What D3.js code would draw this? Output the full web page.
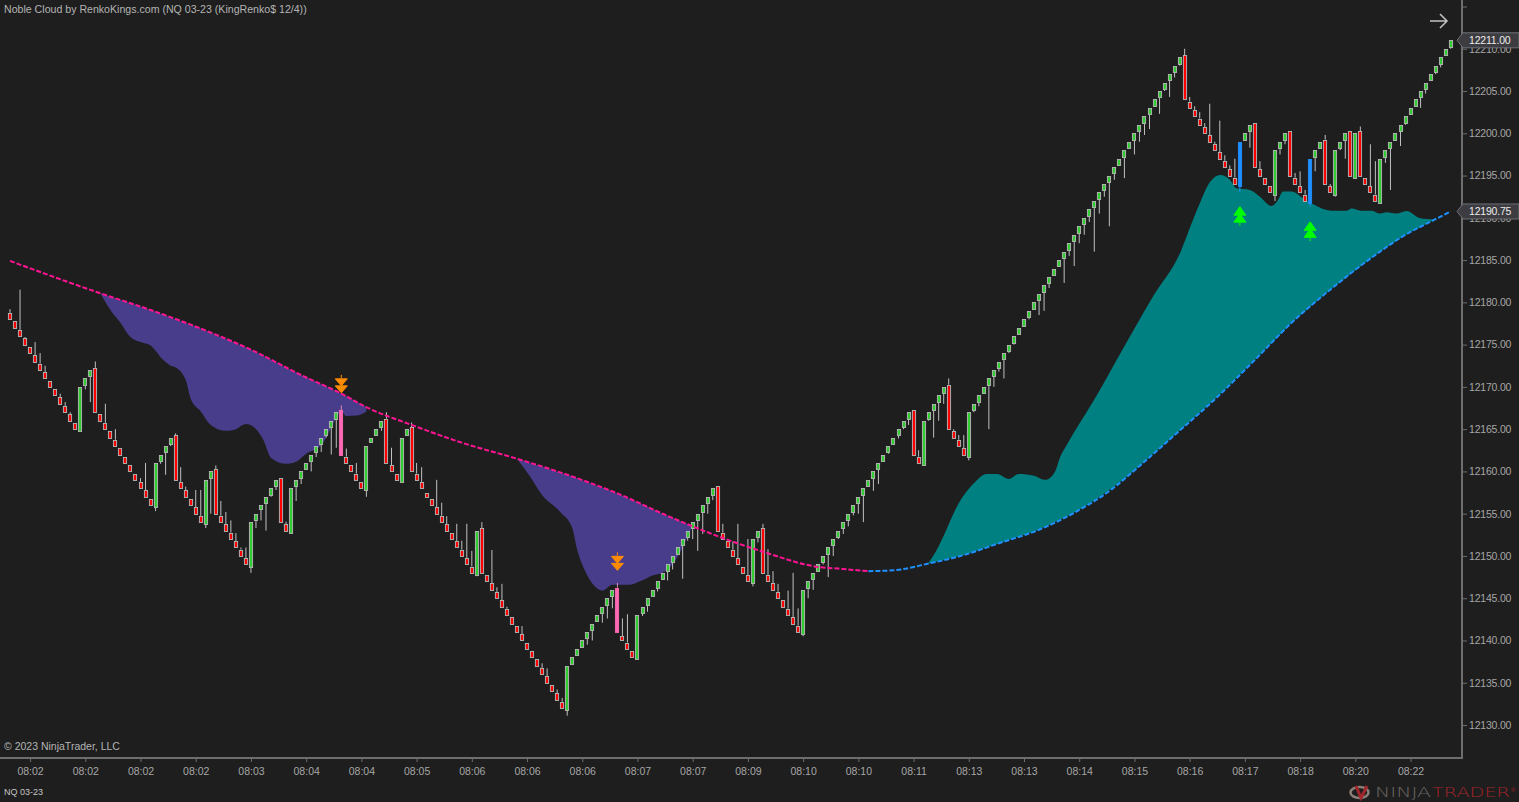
<!DOCTYPE html>
<html>
<head>
<meta charset="utf-8">
<title>Noble Cloud</title>
<script src="https://d3js.org/d3.v7.min.js"></script>
<style>
  html, body { margin: 0; padding: 0; background: #1e1e1e; overflow: hidden; }
  svg { display: block; font-family: "Liberation Sans", Arial, sans-serif; }
</style>
</head>
<body>
<svg id="chart" width="1519" height="802"></svg>
<script>
// renko bars, one entry per bar
const opens = [
  12178.75,12177.75,12176.75,12175.75,12174.75,12173.75,12172.75,12171.75,12170.75,12169.75,12168.75,12167.75,12166.75,12165.75,
  12164.75,12170.25,12171.25,12172.25,12166.75,12165.75,12164.75,12163.75,12162.75,12161.75,12160.75,12159.75,12158.75,12157.75,12156.75,
  12155.75,12161.25,12162.25,12163.25,12164.25,12158.75,12157.75,12156.75,12155.75,12154.75,12153.75,12159.25,12160.25,
  12154.75,12153.75,12152.75,12151.75,12150.75,12149.75,12148.75,12154.25,12155.5,12156.25,12157.25,12158.25,12159.25,12153.75,
  12152.75,12158.25,12159.25,12160.25,12161.25,12162.25,12163.25,12164.25,12165.25,12166.25,12167.25,12161.75,12160.75,12159.75,12158.75,
  12157.75,12163.5,12164.25,12165.25,12166.25,12160.75,12159.75,12158.75,12164.25,12165.25,12159.75,12158.75,12157.5,12156.75,12155.75,
  12154.75,12153.75,12152.75,12151.75,12150.75,12149.75,12148.75,12147.75,12153.25,12147.75,12146.75,12145.75,12144.75,12143.75,12142.75,
  12141.75,12140.75,12139.75,12138.75,12137.75,12136.75,12135.75,12134.75,12133.75,12132.75,12131.75,12137.25,12138.25,12139.25,12140.25,
  12141.25,12142.25,12143.25,12144.25,12145.25,12146.25,12140.5,12139.75,12138.75,12137.75,12143.25,12144.25,12145.25,12146.25,12147.25,
  12148.25,12149.25,12150.25,12151.25,12152.25,12153.25,12154.25,12155.25,12156.25,12157.25,12158.25,12152.75,12151.75,12150.75,12149.75,
  12148.75,12147.75,12146.75,12152.25,12153.25,12147.75,12146.75,12145.75,12144.75,12143.75,12142.75,12141.75,12140.75,12146.25,12147.25,
  12148.25,12149.25,12150.25,12151.25,12152.25,12153.25,12154.25,12155.25,12156.25,12157.25,12158.25,12159.25,12160.25,12161.25,12162.25,
  12163.25,12164.25,12165.25,12166.25,12167.25,12161.75,12160.75,12166.25,12167.25,12168.25,12169.25,12170.25,12164.75,12163.75,12162.75,
  12161.75,12167.25,12168.25,12169.25,12170.25,12171.25,12172.25,12173.25,12174.25,12175.25,12176.25,12177.25,12178.25,12179.25,12180.25,
  12181.25,12182.25,12183.25,12184.25,12185.25,12186.25,12187.25,12188.25,12189.25,12190.25,12191.25,12192.25,12193.25,12194.25,12195.25,
  12196.25,12197.25,12198.25,12199.25,12200.25,12201.25,12202.25,12203.25,12204.25,12205.25,12206.25,12207.25,12208.25,12209.25,
  12203.75,12202.75,12201.75,12200.75,12199.75,12198.75,12197.75,12196.75,12195.75,12194.75,12193.75,12199.25,12200.25,12201.25,
  12195.75,12194.75,12193.75,12192.75,12198.25,12199.25,12200.25,12194.75,12193.75,12192.75,12191.75,12197.25,12198.25,12199.25,
  12193.75,12192.75,12198.25,12199.25,12200.25,12194.75,12200.25,12194.75,12193.75,12192.75,12191.75,12197.25,12198.25,12199.25,
  12200.25,12201.25,12202.25,12203.25,12204.25,12205.25,12206.25,12207.25,12208.25,12209.25,12210.25
];
const closes = [
  12178,12177,12176,12175,12174,12173,12172,12171,12170,12169,12168,12167,12166,12165,
  12170,12171,12172,12167,12166,12165,12164,12163,12162,12161,12160,12159,12158,12157,12156,
  12161,12162,12163,12164,12159,12158,12157,12156,12155,12154,12159,12160,12155,
  12154,12153,12152,12151,12150,12149,12154,12155,12156,12157,12158,12159,12154,12153,
  12158,12159,12160,12161,12162,12163,12164,12165,12166,12167,12162,12161,12160,12159,12158,
  12163,12164,12165,12166,12161,12160,12159,12164,12165,12160,12159,12158,12157,12156,12155,
  12154,12153,12152,12151,12150,12149,12148,12153,12148,12147,12146,12145,12144,12143,12142,
  12141,12140,12139,12138,12137,12136,12135,12134,12133,12132,12137,12138,12139,12140,12141,
  12142,12143,12144,12145,12146,12141,12140,12139,12138,12143,12144,12145,12146,12147,12148,
  12149,12150,12151,12152,12153,12154,12155,12156,12157,12158,12153,12152,12151,12150,12149,
  12148,12147,12152,12153,12148,12147,12146,12145,12144,12143,12142,12141,12146,12147,12148,
  12149,12150,12151,12152,12153,12154,12155,12156,12157,12158,12159,12160,12161,12162,12163,
  12164,12165,12166,12167,12162,12161,12166,12167,12168,12169,12170,12165,12164,12163,12162,
  12167,12168,12169,12170,12171,12172,12173,12174,12175,12176,12177,12178,12179,12180,12181,
  12182,12183,12184,12185,12186,12187,12188,12189,12190,12191,12192,12193,12194,12195,12196,
  12197,12198,12199,12200,12201,12202,12203,12204,12205,12206,12207,12208,12209,12204,
  12203,12202,12201,12200,12199,12198,12197,12196,12195,12194,12199,12200,12201,12196,
  12195,12194,12193,12198,12199,12200,12195,12194,12193,12192,12197,12198,12199,12194,
  12193,12198,12199,12200,12195,12200,12195,12194,12193,12192,12197,12198,12199,12200,
  12201,12202,12203,12204,12205,12206,12207,12208,12209,12210,12211
];

// wicks as [bar, price], most bars have none
const highWicks = [
  [0,12179.2],[2,12181.5],[3,12175.9],[5,12175.3],[6,12174],[7,12172.5],[10,12169.2],[11,12168.2],[12,12167],[17,12173],[19,12168],[21,12165],
  [26,12159.2],[27,12161],[33,12164.5],[34,12160.5],[35,12158.2],[37,12157.8],[38,12157.8],[41,12160.7],[42,12156.5],[43,12155.2],[44,12154.2],
  [45,12152.7],[46,12151],[47,12151],[55,12154.05],[66,12167.8],[67,12162.7],[69,12161],[75,12167],[76,12162.8],[80,12165.8],[81,12161],
  [82,12160.5],[85,12159],[86,12156.3],[87,12154.7],[89,12153.8],[90,12151.8],[91,12153.8],[92,12150.6],[94,12154],[96,12150.7],[97,12146.3],
  [98,12146.7],[99,12144],[102,12141.7],[106,12137.3],[107,12136.7],[109,12134.2],[110,12133.2],[121,12146.8],[122,12142.6],[123,12143.1],
  [142,12153.8],[144,12151.7],[145,12153.8],[147,12152],[150,12153.8],[151,12150.8],[152,12148.2],[153,12146.7],[155,12145.9],[156,12148],
  [157,12143.8],[181,12162.5],[187,12171],[188,12165],[189,12164.3],[190,12164.3],[234,12210],[235,12204.3],[236,12203.2],[237,12202.5],
  [238,12201.2],[239,12203.5],[240,12199],[241,12201.5],[242,12197.4],[243,12196.2],[244,12197],[249,12196.7],[256,12195.3],[257,12195.5],
  [258,12193.3],[262,12199.8],[263,12194],[269,12200.8],[271,12198.7],[272,12196.7]
];
const lowWicks = [
  [15,12169.7],[16,12168.2],[29,12155.3],[30,12160.9],[31,12159.6],[32,12163],[39,12153.3],[40,12155],[48,12148],[49,12153.3],[50,12154.2],
  [51,12153],[52,12157],[53,12157.8],[57,12156.5],[58,12158.5],[60,12160],[61,12161.7],[62,12162.3],[63,12164],[64,12162],[65,12162.8],
  [71,12157],[74,12164.8],[93,12147.6],[111,12131.1],[115,12139.5],[116,12140],[117,12142.2],[118,12142.1],[119,12142.6],[120,12143.8],
  [126,12142.9],[127,12143.4],[129,12145.8],[130,12147.2],[131,12147.1],[132,12148.4],[134,12147.3],[135,12151.8],[136,12152],[137,12150.6],
  [138,12152.6],[139,12155],[140,12156.6],[148,12146.4],[149,12151.6],[158,12140.5],[159,12145],[160,12146],[161,12148.3],[162,12149],
  [163,12147.5],[164,12150],[165,12152],[166,12152.6],[167,12153.5],[168,12154.8],[169,12155],[170,12154],[172,12157.7],[173,12158.5],
  [174,12161.4],[175,12162.1],[177,12163.9],[178,12165],[179,12165.5],[183,12166],[184,12164],[185,12166],[186,12168],[191,12161.3],
  [192,12167],[193,12167.7],[194,12169.3],[195,12165],[196,12170],[197,12171.8],[198,12171],[199,12174],[200,12175],[203,12178],[205,12178.5],
  [206,12179],[207,12181.7],[210,12182.3],[211,12185.5],[212,12184.3],[213,12187],[214,12188],[215,12189.5],[216,12186],[217,12190.5],
  [218,12192.5],[219,12189],[220,12194.5],[222,12194.7],[224,12197.5],[225,12199],[226,12199.8],[227,12200.5],[229,12202.3],[230,12205],
  [231,12204.3],[232,12206.6],[233,12208],[245,12193],[247,12198.3],[252,12192],[253,12197.5],[254,12198.7],[259,12191.3],[260,12195.5],
  [264,12192.5],[265,12198],[266,12197],[274,12196.5],[275,12193.3],[277,12198.5],[278,12201],[279,12202.5],[281,12203],[282,12204.7],
  [284,12207],[285,12207.8],[287,12210]
];

const pinkBars = [66, 121];
const blueBars = [245, 259];

// the dashed average, pink while falling and blue once it turns up
const avgBars = [0,18,28,38,48,58,66,71,80,90,101,112,121,130,136,143,150,161,165,171,176,183,190,197,205,212,219.5,225,232,240.5,248,255.5,263,271.5,278,283.5,287];
const avgPrices = [12184.9,12181.07,12179.1,12176.9,12174.4,12171.4,12169.2,12167.6,12165.5,12163.4,12161.5,12159.4,12157.4,12155,12153.5,12151.9,12150.5,12148.7,12148.5,12148.2,12148.3,12149.1,12150.1,12151.5,12153.1,12155.1,12157.9,12160.64,12164.3,12168.8,12173.2,12177.7,12181.5,12185.4,12188,12189.7,12190.75];
const avgTurnBar = 171;

// free edge of each cloud, the other edge is the average
const purpleBarsA = [18,20,22,24,26,28,30.5,32,33,35,36,38,40,43,45,47,49,50.5,52,55,57,59,62,65,66,67,69,71];
const purpleEdgeA = [12181.07,12179.1,12177.6,12175.9,12175.3,12174.9,12173.2,12172.5,12172.3,12170.8,12168.6,12167.1,12165.5,12164.8,12165,12165.6,12165,12163.7,12161.6,12160.9,12161.15,12162.1,12163.1,12166.3,12167.1,12166.55,12166.6,12167.1];
const purpleBarsB = [101,103.6,106,109.6,112,113,114.5,116.5,118,120,123.5,125.5,128,130,133,135,136];
const purpleEdgeB = [12161.5,12159.4,12157.2,12155.2,12153.3,12150.7,12148.3,12146.4,12145.9,12146.6,12146.6,12147,12147.7,12148,12149.9,12152.3,12153.5];
const tealBars = [183,184.6,186,188.6,192,194.6,196.6,199,201,204,206.2,208.2,209.2,210.4,216.5,221.8,227.7,233.2,235.4,237.3,239,241.1,243,244.3,247,249,251.3,252.6,253.6,255.3,257.6,259.3,263.3,266.3,267.3,269,271.3,272.9,274.2,276.2,278.2,280.9,283.5];
const tealEdge = [12149.2,12150.7,12152.4,12155.8,12158.6,12159.7,12159.7,12159.1,12159.7,12159.5,12159,12160,12161.7,12163,12169,12174.6,12180.7,12186,12189.35,12192.1,12194.2,12195.07,12194.5,12193.5,12193.3,12192.5,12191.4,12192.1,12193.1,12193.1,12192.3,12191.7,12190.85,12190.85,12191.1,12190.85,12190.85,12190.5,12190.65,12190.5,12190.8,12189.95,12189.8];

// signal arrows as [bar, price]
const sellSignals = [[66,12170.3],[121,12149.3]];
const buySignals = [[245,12190.2],[259,12188.4]];

const priceTicks = [12130,12135,12140,12145,12150,12155,12160,12165,12170,12175,12180,12185,12190,12195,12200,12205,12210,12215];
const priceFlags = [12211, 12190.75];
const timeBars = [4,15,26,37,48,59,70,81,92,103,114,125,136,147,158,169,180,191,202,213,224,235,246,257,268,279];
const timeLabels = ['08:02','08:02','08:02','08:02','08:03','08:04','08:04','08:05','08:06','08:06','08:06','08:07','08:07','08:09','08:10','08:10','08:11','08:13','08:13','08:14','08:15','08:16','08:17','08:18','08:20','08:22'];

const GREEN = '#32cd32', RED = '#ff0000', PINK = '#ff69b4', BLUE = '#1e90ff';
const AVG_PINK = '#ff1493', AVG_BLUE = '#1e90ff';
const CLOUD_PURPLE = '#483d8b', CLOUD_TEAL = '#008080';
const ORANGE = '#ff8c00', LIME = '#00ff00';
const AXIS_COLOR = '#6e6e6e', TEXT_COLOR = '#a6a6a6';
const UI_FONT = '"Liberation Sans", Arial, sans-serif';

const svg = d3.select('#chart');
const x = d3.scaleLinear().domain([0, 287]).range([10, 1450.7]);
const y = d3.scaleLinear().domain([12130, 12215]).range([725, 6.5]);
const avgAt = d3.scaleLinear().domain(avgBars).range(avgPrices);

// clouds
function drawCloud(bars, edge, color) {
  const area = d3.area()
    .x(d => x(d))
    .y0(d => y(avgAt(d)))
    .y1((d, i) => y(edge[i]))
    .curve(d3.curveMonotoneX);
  svg.append('path').attr('d', area(bars)).attr('fill', color);
}
drawCloud(purpleBarsA, purpleEdgeA, CLOUD_PURPLE);
drawCloud(purpleBarsB, purpleEdgeB, CLOUD_PURPLE);
drawCloud(tealBars, tealEdge, CLOUD_TEAL);

// candles
const barColor = i => pinkBars.includes(i) ? PINK : blueBars.includes(i) ? BLUE : closes[i] >= opens[i] ? GREEN : RED;
const wickColor = i => pinkBars.includes(i) ? '#d890b4' : blueBars.includes(i) ? BLUE : '#c0c0c0';
const snap = v => Math.round(v) + 0.5;

const wicks = svg.append('g').attr('stroke-width', 1);
function drawWicks(list, bodyEdge) {
  wicks.selectAll(null).data(list).join('line')
    .attr('x1', d => x(d[0])).attr('x2', d => x(d[0]))
    .attr('y1', d => y(d[1])).attr('y2', d => y(bodyEdge(d[0])))
    .attr('stroke', d => wickColor(d[0]));
}
drawWicks(highWicks, i => Math.max(opens[i], closes[i]));
drawWicks(lowWicks, i => Math.min(opens[i], closes[i]));

// bodies sit on whole pixels, a fractional outline washes the colour out
svg.append('g').selectAll('rect').data(closes).join('rect')
  .attr('x', (d, i) => Math.round(x(i)) - 1.6)
  .attr('width', 3.2)
  .attr('y', (d, i) => snap(y(Math.max(opens[i], d))))
  .attr('height', (d, i) => snap(y(Math.min(opens[i], d))) - snap(y(Math.max(opens[i], d))))
  .attr('fill', (d, i) => barColor(i))
  .attr('stroke', (d, i) => pinkBars.includes(i) || blueBars.includes(i) ? barColor(i) : '#b8b8b8')
  .attr('stroke-width', 0.9);

// average line
const avgLine = d3.line().x(d => x(d[0])).y(d => y(d[1])).curve(d3.curveMonotoneX);
const avgPoints = avgBars.map((b, i) => [b, avgPrices[i]]);
[[avgPoints.filter(d => d[0] <= avgTurnBar), AVG_PINK], [avgPoints.filter(d => d[0] >= avgTurnBar), AVG_BLUE]].forEach(([pts, color]) => {
  svg.append('path').attr('d', avgLine(pts))
    .attr('fill', 'none').attr('stroke', color)
    .attr('stroke-width', 2).attr('stroke-dasharray', '5 2');
});

// signal arrows, built around a centre point
const sellArrow = 'M0,-9.5V-6 M-6,-5.5H6L0,1.5Z M-6,1.5H6L0,8.5Z';
const buyArrow = 'M0,-9.5L6,-1H-6Z M0,-2.5L6,6H-6Z M0,6V9.7';
function drawSignals(list, shape, color) {
  svg.append('g').selectAll('path').data(list).join('path')
    .attr('transform', d => `translate(${x(d[0])},${y(d[1])})`)
    .attr('d', shape)
    .attr('fill', color).attr('stroke', color).attr('stroke-width', 1);
}
drawSignals(sellSignals, sellArrow, ORANGE);
drawSignals(buySignals, buyArrow, LIME);

// axes
const priceAxis = d3.axisRight(y)
  .tickValues(priceTicks)
  .tickSize(5)
  .tickPadding(2)
  .tickFormat(d => d === 12215 ? '' : d3.format('.2f')(d));
const gy = svg.append('g').attr('transform', 'translate(1462,0)').call(priceAxis);
gy.select('.domain').remove();
gy.selectAll('line').attr('stroke', AXIS_COLOR);
gy.selectAll('text').attr('fill', TEXT_COLOR).attr('font-size', 10.5).attr('letter-spacing', -0.2).attr('font-family', UI_FONT);

const timeAxis = d3.axisBottom(x)
  .tickValues(timeBars)
  .tickSize(4)
  .tickPadding(6)
  .tickFormat((d, i) => timeLabels[i]);
const gx = svg.append('g').attr('transform', 'translate(0,758)').call(timeAxis);
gx.select('.domain').remove();
gx.selectAll('line').attr('stroke', AXIS_COLOR);
gx.selectAll('text').attr('fill', TEXT_COLOR).attr('font-size', 10.5).attr('font-family', UI_FONT);

svg.append('path').attr('d', 'M0,758H1462V0').attr('fill', 'none').attr('stroke', AXIS_COLOR).attr('stroke-width', 2);

// price flags on the axis
const flags = svg.append('g').selectAll('g').data(priceFlags).join('g')
  .attr('transform', d => `translate(0,${y(d)})`);
flags.append('path')
  .attr('d', 'M1457,0L1463,-7.5H1519V7.5H1463Z')
  .attr('fill', '#3c3c41').attr('stroke', '#70707a').attr('stroke-width', 1);
flags.append('text')
  .attr('x', 1469).attr('y', 4)
  .attr('font-size', 10.5).attr('letter-spacing', -0.2).attr('fill', '#ececec')
  .text(d => d3.format('.2f')(d));

// texts
svg.append('text').attr('x', 4).attr('y', 13).attr('font-size', 10.6).attr('fill', '#b4b4b4')
  .text('Noble Cloud by RenkoKings.com (NQ 03-23 (KingRenko$ 12/4))');
svg.append('text').attr('x', 4).attr('y', 750).attr('font-size', 10.5).attr('fill', '#b4b4b4')
  .text('\u00a9 2023 NinjaTrader, LLC');
svg.append('text').attr('x', 4).attr('y', 795).attr('font-size', 9).attr('fill', '#c4c4c4')
  .text('NQ 03-23');

// the arrow top right
svg.append('path').attr('d', 'M1430,21H1447M1440,14L1447,21L1440,28')
  .attr('fill', 'none').attr('stroke', '#c4c4c4').attr('stroke-width', 1.5);

// logo
const logo = svg.append('g');
logo.append('ellipse').attr('cx', 1359.5).attr('cy', 792.5).attr('rx', 9).attr('ry', 5.5)
  .attr('fill', 'none').attr('stroke', '#8a7f76').attr('stroke-width', 2.5);
logo.append('path').attr('d', 'M1356,786L1361,798L1367,786').attr('fill', 'none').attr('stroke', '#a3252c').attr('stroke-width', 3);
const logoFont = '"DejaVu Sans", sans-serif';
logo.append('text').attr('x', 1375).attr('y', 797).attr('font-size', 13.5).attr('font-family', logoFont).attr('font-weight', 200).attr('fill', '#6a6662')
  .attr('textLength', 56).attr('lengthAdjust', 'spacingAndGlyphs').text('NINJA');
logo.append('text').attr('x', 1432).attr('y', 797).attr('font-size', 13.5).attr('font-family', logoFont).attr('font-weight', 200).attr('fill', '#a3252c')
  .attr('textLength', 78).attr('lengthAdjust', 'spacingAndGlyphs').text('TRADER');
logo.append('text').attr('x', 1511).attr('y', 792).attr('font-size', 6).attr('fill', '#a3252c').text('\u00ae');
</script>
</body>
</html>
